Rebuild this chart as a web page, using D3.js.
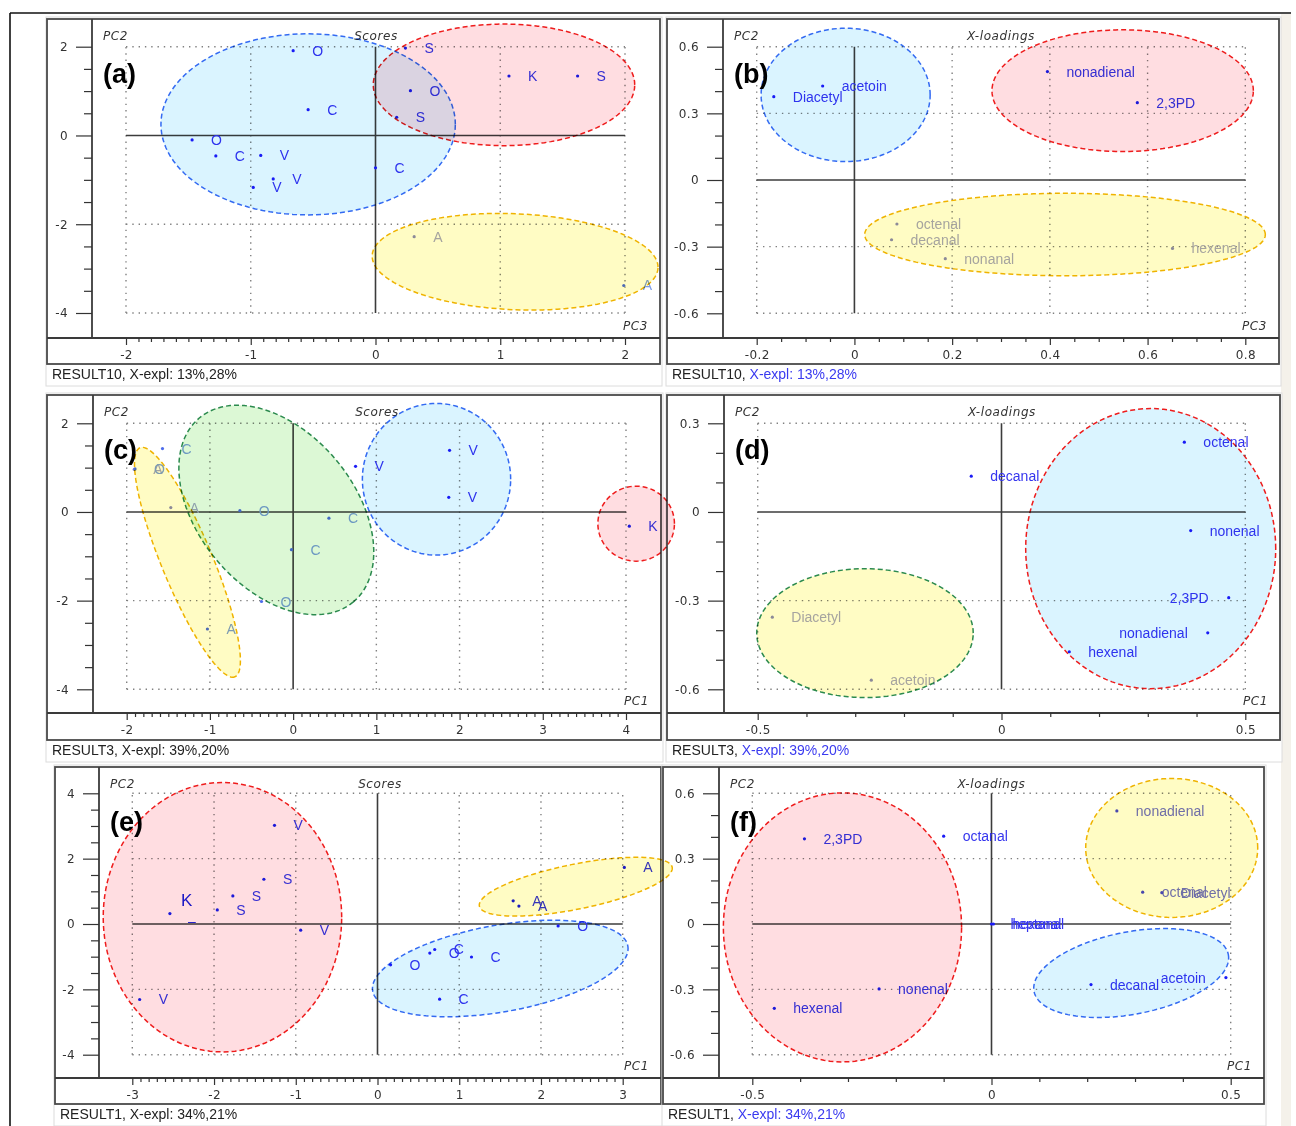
<!DOCTYPE html>
<html>
<head>
<meta charset="utf-8">
<script src="https://cdn.jsdelivr.net/npm/d3@7"></script>
<style>
  html, body { margin: 0; padding: 0; background: #ffffff; }
  svg { display: block; }
</style>
</head>
<body>
<svg id="fig" width="1296" height="1126"></svg>
<script>
// ------------------------------------------------------------------
// Data
// ------------------------------------------------------------------

// (a) Scores, PC3 vs PC2 — RESULT10
const scoresA_labels = ["O","C","O","C","V","V","V","S","O","S","C","K","S","A","A"];
const scoresA_pc3    = [-0.66,-0.54,-1.47,-1.28,-0.92,-0.82,-0.98, 0.24, 0.28, 0.17, 0.00, 1.07, 1.62, 0.31, 1.99];
const scoresA_pc2    = [ 1.91, 0.58,-0.10,-0.46,-0.45,-0.98,-1.17, 1.97, 1.01, 0.41,-0.73, 1.34, 1.34,-2.28,-3.38];
const scoresA_xTicks = [-2,-1,0,1,2];
const scoresA_yTicks = [-4,-2,0,2];
// group ellipses: centre (cx, cy) and two conjugate semi-axes (ax, ay), (bx, by), all in data units
const scoresA_groups = [
  [-0.54, 0.25, 1.18, 0, 0, 2.04],
  [ 1.03, 1.14, 1.048, 0, 0, 1.37],
  [ 1.119,-2.845, 1.1456,-0.1404,-0.0168,-1.080]
];
const statusA = ["RESULT10, X-expl: 13%,28%", ""];

// (b) X-loadings, PC3 vs PC2 — RESULT10
const loadB_labels = ["Diacetyl","acetoin","octenal","decanal","nonanal","nonadienal","2,3PD","hexenal"];
const loadB_pc3    = [-0.165,-0.065, 0.087, 0.076, 0.186, 0.395, 0.579, 0.651];
const loadB_pc2    = [ 0.375, 0.423,-0.198,-0.269,-0.354, 0.488, 0.348,-0.308];
const loadB_xTicks = [-0.2,0,0.2,0.4,0.6,0.8];
const loadB_yTicks = [-0.6,-0.3,0,0.3,0.6];
const loadB_groups = [
  [-0.018, 0.383, 0.173, 0, 0, 0.300],
  [ 0.549, 0.402, 0.2675, 0, 0, 0.274],
  [ 0.431,-0.2455, 0.410, 0, 0, 0.1856]
];
const statusB = ["RESULT10, ", "X-expl: 13%,28%"];

// (c) Scores, PC1 vs PC2 — RESULT3
const scoresC_labels = ["C","A","O","A","O","C","C","O","A","V","V","V","K"];
const scoresC_pc1    = [-1.57,-1.91,-1.90,-1.47,-0.64,-0.02, 0.43,-0.38,-1.03, 0.75, 1.88, 1.87, 4.04];
const scoresC_pc2    = [ 1.43, 0.96, 0.97, 0.10, 0.03,-0.85,-0.14,-2.02,-2.64, 1.03, 1.39, 0.33,-0.32];
const scoresC_xTicks = [-2,-1,0,1,2,3,4];
const scoresC_yTicks = [-4,-2,0,2];
const scoresC_groups = [
  [-1.270,-1.135, 0.570,-2.584,-0.283,-0.220],
  [-0.202, 0.045, 0.926,-2.074,-0.717,-1.131],
  [ 1.723, 0.738, 0.891, 0, 0, 1.710],
  [ 4.122,-0.264, 0.460, 0, 0, 0.846]
];
const statusC = ["RESULT3, X-expl: 39%,20%", ""];

// (d) X-loadings, PC1 vs PC2 — RESULT3
const loadD_labels = ["decanal","Diacetyl","acetoin","octenal","nonenal","2,3PD","nonadienal","hexenal"];
const loadD_pc1    = [-0.062,-0.470,-0.267, 0.375, 0.388, 0.466, 0.423, 0.139];
const loadD_pc2    = [ 0.121,-0.356,-0.569, 0.236,-0.063,-0.290,-0.409,-0.473];
const loadD_xTicks = [-0.5,0,0.5];
const loadD_yTicks = [-0.6,-0.3,0,0.3];
const loadD_groups = [
  [-0.280,-0.410, 0.222, 0, 0, 0.218],
  [ 0.306,-0.124, 0.2564, 0, 0, 0.474]
];
const statusD = ["RESULT3, ", "X-expl: 39%,20%"];

// (e) Scores, PC1 vs PC2 — RESULT1
const scoresE_labels = ["V","S","S","S","K","V","V","A","A","A","O","O","C","C","O","C"];
const scoresE_pc1    = [-1.26,-1.39,-1.77,-1.96,-2.54,-0.94,-2.91, 3.02, 1.66, 1.73, 2.21, 0.64, 0.70, 1.15, 0.16, 0.76];
const scoresE_pc2    = [ 3.02, 1.37, 0.86, 0.43, 0.32,-0.19,-2.31, 1.73, 0.71, 0.55,-0.06,-0.89,-0.78,-1.01,-1.25,-2.30];
const scoresE_xTicks = [-3,-2,-1,0,1,2,3];
const scoresE_yTicks = [-4,-2,0,2,4];
const scoresE_groups = [
  [-1.897, 0.208, 1.459, 0, 0, 4.123],
  [ 2.426, 1.142, 1.1795, 0.5949, 0.0544,-0.6751],
  [ 1.502,-1.362, 1.561, 0.688, 0.0922,-1.308]
];
const statusE = ["RESULT1, X-expl: 34%,21%", ""];

// (f) X-loadings, PC1 vs PC2 — RESULT1
const loadF_labels = ["2,3PD","octanal","nonenal","hexenal","heptanal","hexanal","nonadienal","octenal","Diacetyl","decanal","acetoin"];
const loadF_pc1    = [-0.391,-0.100,-0.235,-0.454, 0.000, 0.004, 0.262, 0.316, 0.356, 0.208, 0.490];
const loadF_pc2    = [ 0.391, 0.403,-0.298,-0.387, 0.000, 0.000, 0.519, 0.146, 0.144,-0.278,-0.246];
const loadF_xTicks = [-0.5,0,0.5];
const loadF_yTicks = [-0.6,-0.3,0,0.3,0.6];
const loadF_groups = [
  [-0.3115,-0.0156, 0.249, 0, 0, 0.6175],
  [ 0.3767, 0.349, 0.1798, 0, 0, 0.319],
  [ 0.292,-0.225, 0.2031, 0.0843, 0.0160,-0.1859]
];
const statusF = ["RESULT1, ", "X-expl: 34%,21%"];

// ------------------------------------------------------------------
// Styles
// ------------------------------------------------------------------
const textTone = { b: "#3535ee", l: "#7d9de8", f: "#a6a6cf", p: "#7070da" };
const dotTone  = { b: "#1c1cf6", l: "#4d6ceb", f: "#8c8cc6", p: "#4848e2" };
const fills    = { cyan: "#daf4ff", pink: "#ffdde1", yellow: "#fffcc4", green: "#dcf8d5" };
const strokes  = { blue: "#336af2", red: "#ee1c1c", gold: "#efb300", green: "#2b8a4e" };
const axisFont = "'DejaVu Sans', sans-serif";
const labelFont = "'Liberation Sans', Arial, sans-serif";
const fmt = d => String(+d.toFixed(2));

const svg = d3.select("#fig");

// outer figure frame
svg.append("rect").attr("x", 1281).attr("y", 14).attr("width", 10).attr("height", 1112).attr("fill", "#f4f1ea");
svg.append("line").attr("x1", 10).attr("x2", 1291).attr("y1", 13).attr("y2", 13).attr("stroke", "#111").attr("stroke-width", 1.6);
svg.append("line").attr("x1", 10).attr("x2", 10).attr("y1", 13).attr("y2", 1126).attr("stroke", "#111").attr("stroke-width", 1.6);

// layers: panels underneath, group ellipses blended on top of all panels
const panelLayer = svg.append("g");
const ellipseLayer = svg.append("g");

function stepRange(lo, hi, step) {
  const a = Math.round(lo / step), b = Math.round(hi / step);
  return d3.range(a, b + 1).map(i => +(i * step).toFixed(4));
}

function drawPanel(p) {
  const g = panelLayer.append("g");
  const [fx0, fy0, fx1, fy1] = p.frame;
  const x = d3.scaleLinear().domain(p.xDom).range(p.xRange);
  const y = d3.scaleLinear().domain(p.yDom).range(p.yRange);

  // panel background (plot + axis band + status line)
  g.append("rect").attr("x", fx0 - 1).attr("y", fy0 - 2)
    .attr("width", fx1 - fx0 + 3).attr("height", fy1 - fy0 + 24)
    .attr("fill", "#fff").attr("stroke", "#dcdcdc").attr("stroke-width", 1);

  // dotted grid at the major ticks
  const [xa, xb] = d3.extent(p.xTicks);
  const [ya, yb] = d3.extent(p.yTicks);
  const grid = g.append("g").attr("stroke", "#808080").attr("stroke-width", 1.4)
    .attr("stroke-dasharray", "1.4,4.9");
  p.xTicks.filter(v => v !== 0).forEach(v =>
    grid.append("line").attr("x1", x(v)).attr("x2", x(v)).attr("y1", y(ya)).attr("y2", y(yb)));
  p.yTicks.filter(v => v !== 0).forEach(v =>
    grid.append("line").attr("y1", y(v)).attr("y2", y(v)).attr("x1", x(xa)).attr("x2", x(xb)));

  // zero axes
  g.append("line").attr("x1", x(xa)).attr("x2", x(xb)).attr("y1", y(0)).attr("y2", y(0))
    .attr("stroke", "#3c3c3c").attr("stroke-width", 1.6);
  g.append("line").attr("x1", x(0)).attr("x2", x(0)).attr("y1", y(ya)).attr("y2", y(yb))
    .attr("stroke", "#3c3c3c").attr("stroke-width", 1.6);

  // points and their labels
  const pts = g.append("g");
  p.labels.forEach((lab, i) => {
    const px = x(p.xs[i]), py = y(p.ys[i]);
    const tone = p.tone[i];
    pts.append("circle").attr("cx", px).attr("cy", py).attr("r", 1.6)
      .attr("fill", dotTone[tone]);
    const left = p.leftLabels && p.leftLabels.includes(i);
    const big = p.bigLabels && p.bigLabels.includes(i);
    pts.append("text")
      .attr("x", big ? px + 11 : (left ? px - 20 : px + 19))
      .attr("y", big ? py - 8 : py + 5)
      .attr("text-anchor", left ? "end" : "start")
      .attr("font-family", labelFont)
      .attr("font-size", big ? 17 : 14)
      .attr("fill", big ? "#1a1ae0" : textTone[tone])
      .text(lab);
    if (big) {
      pts.append("text").attr("x", px + 18).attr("y", py + 12)
        .attr("font-family", labelFont).attr("font-size", 14)
        .attr("fill", "#2a2ae6").text("\u2013");
    }
  });

  // group ellipses, drawn translucently over the plots
  p.groups.forEach((e, i) => {
    const [cx, cy, ax, ay, bx, by] = e;
    const ring = d3.range(0, 360, 3).map(deg => {
      const t = deg * Math.PI / 180;
      return [x(cx + ax * Math.cos(t) + bx * Math.sin(t)), y(cy + ay * Math.cos(t) + by * Math.sin(t))];
    });
    const [fillKey, strokeKey] = p.groupStyle[i];
    ellipseLayer.append("path")
      .attr("d", d3.line().curve(d3.curveLinearClosed)(ring))
      .attr("fill", fills[fillKey])
      .attr("stroke", strokes[strokeKey])
      .attr("stroke-width", 1.5)
      .attr("stroke-dasharray", "5,3")
      .style("mix-blend-mode", "multiply");
  });

  // plot frame, axis band
  g.append("rect").attr("x", fx0).attr("y", fy0).attr("width", fx1 - fx0).attr("height", fy1 - fy0)
    .attr("fill", "none").attr("stroke", "#4a4a4a").attr("stroke-width", 1.8);
  g.append("line").attr("x1", p.plotLeft).attr("x2", p.plotLeft).attr("y1", fy0).attr("y2", p.axisY)
    .attr("stroke", "#3a3a3a").attr("stroke-width", 1.8);
  g.append("line").attr("x1", fx0).attr("x2", fx1).attr("y1", p.axisY).attr("y2", p.axisY)
    .attr("stroke", "#3a3a3a").attr("stroke-width", 1.8);

  const styleAxis = sel => {
    sel.select(".domain").remove();
    sel.selectAll("line").attr("stroke", "#333").attr("stroke-width", 1.2);
    sel.selectAll("text").attr("font-family", axisFont).attr("font-size", 12)
      .attr("fill", "#333").attr("letter-spacing", 0.4);
  };

  // y axis, major and minor ticks
  g.append("g").attr("transform", `translate(${p.plotLeft},0)`)
    .call(d3.axisLeft(y).tickValues(p.yTicks).tickSize(16).tickPadding(8).tickFormat(fmt))
    .call(styleAxis);
  const yMinor = stepRange(p.yDom[0], p.yDom[1], p.yMinor).filter(v => !p.yTicks.some(t => Math.abs(t - v) < 1e-6));
  g.append("g").attr("transform", `translate(${p.plotLeft},0)`)
    .call(d3.axisLeft(y).tickValues(yMinor).tickSize(8).tickFormat(""))
    .call(styleAxis);

  // x axis, major and minor ticks
  g.append("g").attr("transform", `translate(0,${p.axisY})`)
    .call(d3.axisBottom(x).tickValues(p.xTicks).tickSize(7).tickPadding(5).tickFormat(fmt))
    .call(styleAxis);
  const xMinor = stepRange(p.xDom[0], p.xDom[1], p.xMinor).filter(v => !p.xTicks.some(t => Math.abs(t - v) < 1e-6));
  g.append("g").attr("transform", `translate(0,${p.axisY})`)
    .call(d3.axisBottom(x).tickValues(xMinor).tickSize(4).tickFormat(""))
    .call(styleAxis);

  // in-plot captions
  const cap = (tx, ty, s, anchor) => g.append("text").attr("x", tx).attr("y", ty)
    .attr("text-anchor", anchor).attr("font-family", axisFont).attr("font-size", 12)
    .attr("font-style", "italic").attr("fill", "#333").attr("letter-spacing", 0.6).text(s);
  cap(p.plotLeft + 11, fy0 + 21, "PC2", "start");
  cap((p.plotLeft + fx1) / 2, fy0 + 21, p.title, "middle");
  cap(fx1 - 12, p.axisY - 8, p.xName, "end");

  // panel tag
  g.append("text").attr("x", p.plotLeft + 11).attr("y", fy0 + 64)
    .attr("font-family", labelFont).attr("font-weight", "bold").attr("font-size", 27)
    .attr("fill", "#000").text(p.tag);

  // status line
  const st = g.append("text").attr("x", fx0 + 5).attr("y", fy1 + 15)
    .attr("font-family", labelFont).attr("font-size", 14).attr("fill", "#222");
  st.append("tspan").text(p.status[0]);
  if (p.status[1]) st.append("tspan").attr("fill", "#3a3af0").text(p.status[1]);
}

// ------------------------------------------------------------------
// Panels
// ------------------------------------------------------------------
drawPanel({
  tag: "(a)", title: "Scores", xName: "PC3", status: statusA,
  frame: [47, 19, 660, 364], plotLeft: 92, axisY: 338,
  xDom: [-2, 2], xRange: [126, 625], yDom: [-4, 2], yRange: [313, 46.7],
  xTicks: scoresA_xTicks, yTicks: scoresA_yTicks, xMinor: 0.1, yMinor: 0.5,
  labels: scoresA_labels, xs: scoresA_pc3, ys: scoresA_pc2,
  tone: "bbbbbbbbbbbbbfl",
  groups: scoresA_groups, groupStyle: [["cyan", "blue"], ["pink", "red"], ["yellow", "gold"]]
});

drawPanel({
  tag: "(b)", title: "X-loadings", xName: "PC3", status: statusB,
  frame: [667, 19, 1279, 364], plotLeft: 723, axisY: 338,
  xDom: [-0.2, 0.8], xRange: [756.7, 1245.3], yDom: [-0.6, 0.6], yRange: [313.3, 46.7],
  xTicks: loadB_xTicks, yTicks: loadB_yTicks, xMinor: 0.05, yMinor: 0.1,
  labels: loadB_labels, xs: loadB_pc3, ys: loadB_pc2,
  tone: "bbfffbbf",
  groups: loadB_groups, groupStyle: [["cyan", "blue"], ["pink", "red"], ["yellow", "gold"]]
});

drawPanel({
  tag: "(c)", title: "Scores", xName: "PC1", status: statusC,
  frame: [47, 395, 661, 740], plotLeft: 93, axisY: 713,
  xDom: [-2, 4], xRange: [126.7, 626], yDom: [-4, 2], yRange: [689.3, 423.3],
  xTicks: scoresC_xTicks, yTicks: scoresC_yTicks, xMinor: 0.1, yMinor: 0.5,
  labels: scoresC_labels, xs: scoresC_pc1, ys: scoresC_pc2,
  tone: "lflflllllbbbb",
  groups: scoresC_groups, groupStyle: [["yellow", "gold"], ["green", "green"], ["cyan", "blue"], ["pink", "red"]]
});

drawPanel({
  tag: "(d)", title: "X-loadings", xName: "PC1", status: statusD,
  frame: [667, 395, 1280, 740], plotLeft: 724, axisY: 713,
  xDom: [-0.5, 0.5], xRange: [757.7, 1245.3], yDom: [-0.6, 0.3], yRange: [689.3, 423.3],
  xTicks: loadD_xTicks, yTicks: loadD_yTicks, xMinor: 0.1, yMinor: 0.1,
  labels: loadD_labels, xs: loadD_pc1, ys: loadD_pc2,
  tone: "bffbbbbb", leftLabels: [5, 6],
  groups: loadD_groups, groupStyle: [["yellow", "green"], ["cyan", "red"]]
});

drawPanel({
  tag: "(e)", title: "Scores", xName: "PC1", status: statusE,
  frame: [55, 767, 661, 1104], plotLeft: 99, axisY: 1078,
  xDom: [-3, 3], xRange: [132.3, 622.7], yDom: [-4, 4], yRange: [1054.7, 793.3],
  xTicks: scoresE_xTicks, yTicks: scoresE_yTicks, xMinor: 0.1, yMinor: 0.5,
  labels: scoresE_labels, xs: scoresE_pc1, ys: scoresE_pc2,
  tone: "bbbbbbbbbbbbbbbb", bigLabels: [4],
  groups: scoresE_groups, groupStyle: [["pink", "red"], ["yellow", "gold"], ["cyan", "blue"]]
});

drawPanel({
  tag: "(f)", title: "X-loadings", xName: "PC1", status: statusF,
  frame: [663, 767, 1264, 1104], plotLeft: 719, axisY: 1078,
  xDom: [-0.5, 0.5], xRange: [752.3, 1230.7], yDom: [-0.6, 0.6], yRange: [1054.7, 793.3],
  xTicks: loadF_xTicks, yTicks: loadF_yTicks, xMinor: 0.1, yMinor: 0.1,
  labels: loadF_labels, xs: loadF_pc1, ys: loadF_pc2,
  tone: "bbbbbbpppbb", leftLabels: [10],
  groups: loadF_groups, groupStyle: [["pink", "red"], ["yellow", "gold"], ["cyan", "blue"]]
});
</script>
</body>
</html>
